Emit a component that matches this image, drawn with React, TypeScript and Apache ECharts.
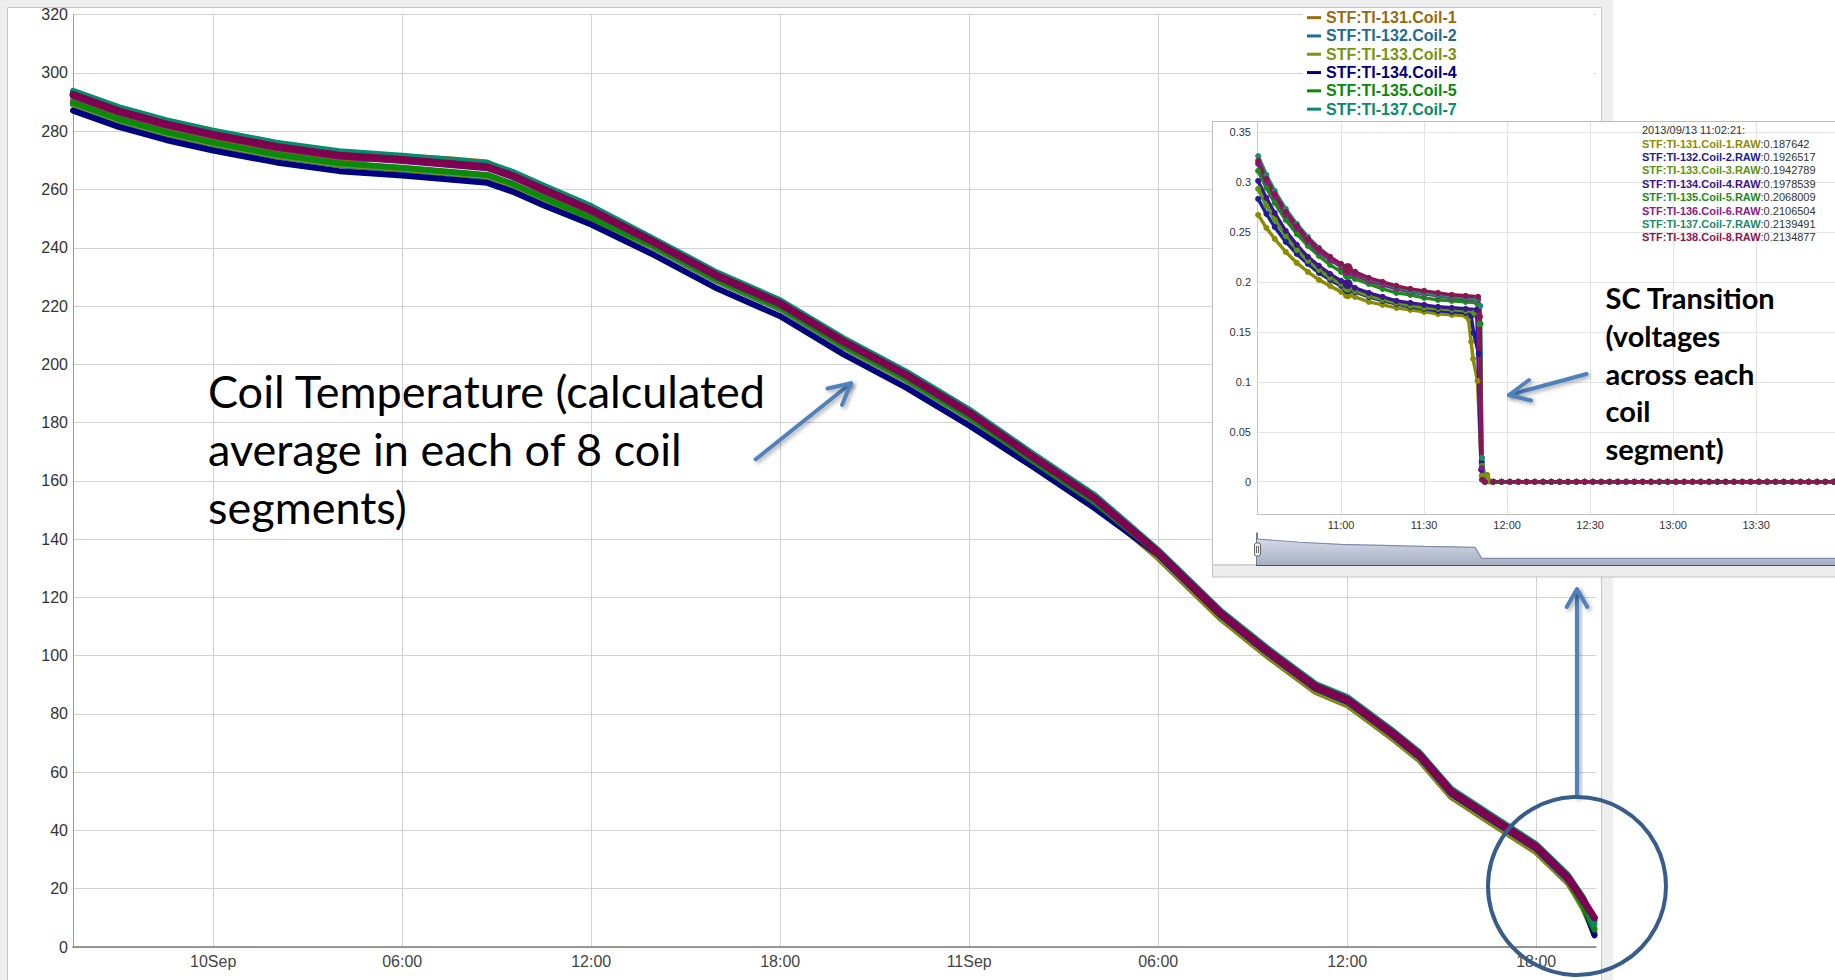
import React, { useEffect, useRef } from "react";
import * as echarts from "echarts";

// ---------- Main chart data (hours relative to 10 Sep 00:00, temperature) ----------
const HOURS = [-4.45, -3, -1.5, 0, 2, 4, 6, 7.5, 8.7, 9.5, 10.5, 12, 14, 16, 18, 20, 22, 24, 26, 28, 30, 32, 33.5, 35, 36, 37.5, 38.3, 39.3, 40.5, 42, 43, 43.5, 43.85];
const COIL1_T = [290.6, 285.0, 280.5, 276.9, 272.8, 269.8, 271.3, 270.4, 269.3, 265.3, 259.0, 252.0, 240.0, 228.5, 219.0, 206.0, 194.5, 181.5, 166.5, 152.0, 133.5, 112.5, 99.5, 87.5, 83.0, 71.0, 64.0, 51.5, 43.0, 32.5, 22.0, 14.0, 6.5];
const COIL2_T = [289.1, 283.5, 279.0, 275.4, 271.3, 268.3, 266.8, 265.4, 264.3, 261.3, 256.5, 249.5, 240.0, 228.5, 219.0, 206.0, 194.5, 181.5, 166.5, 152.0, 134.5, 113.5, 100.5, 88.5, 84.0, 72.0, 65.0, 52.5, 44.0, 33.5, 23.0, 13.5, 4.5];
const COIL3_T = [289.4, 283.8, 279.3, 275.7, 271.6, 268.6, 267.1, 265.7, 264.6, 261.6, 256.8, 249.8, 240.2, 228.7, 219.2, 206.2, 194.7, 181.7, 166.7, 152.2, 133.9, 112.9, 99.9, 87.9, 83.4, 71.4, 64.4, 51.9, 43.4, 32.9, 22.4, 13.0, 5.0];
const COIL4_T = [287.1, 281.5, 277.0, 273.4, 269.3, 266.3, 264.8, 263.4, 262.3, 259.3, 254.5, 248.0, 237.5, 226.0, 216.5, 203.5, 192.0, 179.0, 165.0, 150.5, 134.7, 113.7, 100.7, 88.7, 84.2, 72.2, 65.2, 52.7, 44.2, 33.7, 23.2, 14.5, 4.0];
const COIL5_T = [289.8, 284.2, 279.7, 276.1, 272.0, 269.0, 267.5, 266.1, 265.0, 262.0, 257.2, 250.2, 240.5, 229.0, 219.5, 206.5, 195.0, 182.0, 167.0, 152.5, 135.0, 114.0, 101.0, 89.0, 84.5, 72.5, 65.5, 53.0, 44.5, 34.0, 23.5, 14.0, 6.0];
const COIL6_T = [292.1, 286.5, 282.0, 278.4, 274.3, 271.3, 269.8, 268.4, 267.3, 264.3, 259.5, 252.5, 241.5, 230.0, 220.5, 207.5, 196.0, 183.0, 168.0, 153.5, 135.0, 114.0, 101.0, 89.0, 84.5, 72.5, 65.5, 53.0, 44.5, 34.0, 23.5, 15.5, 9.0];
const COIL7_T = [293.9, 288.3, 283.8, 280.2, 276.1, 273.1, 271.6, 270.2, 269.1, 266.1, 261.3, 254.3, 243.0, 231.5, 222.0, 209.0, 197.5, 184.5, 169.5, 155.0, 136.3, 115.3, 102.3, 90.3, 85.8, 73.8, 66.8, 54.3, 45.8, 35.3, 24.8, 16.8, 8.0];
const COIL8_T = [292.6, 287.0, 282.5, 278.9, 274.8, 271.8, 270.3, 268.9, 267.8, 264.8, 260.0, 253.0, 242.0, 230.5, 221.0, 208.0, 196.5, 183.5, 168.5, 154.0, 135.5, 114.5, 101.5, 89.5, 85.0, 73.0, 66.0, 53.5, 45.0, 34.5, 24.0, 16.0, 10.0];
const MAIN_NAMES = ["STF:TI-131.Coil-1", "STF:TI-132.Coil-2", "STF:TI-133.Coil-3", "STF:TI-134.Coil-4", "STF:TI-135.Coil-5", "STF:TI-136.Coil-6", "STF:TI-137.Coil-7", "STF:TI-138.Coil-8"];
const MAIN_COLORS = ["#9a6a10", "#226b94", "#7a9412", "#000080", "#0a8a0a", "#800080", "#058c6c", "#800050"];
const LEGEND_NAMES = ["STF:TI-131.Coil-1", "STF:TI-132.Coil-2", "STF:TI-133.Coil-3", "STF:TI-134.Coil-4", "STF:TI-135.Coil-5", "STF:TI-137.Coil-7"];
const MAIN_X_TICKS = [0, 6, 12, 18, 24, 30, 36, 42];

// ---------- Inset data (minutes after 10:00, volts) ----------
const INSET_T = [30, 33, 36, 40, 44, 48, 52, 56, 60, 65, 70, 75, 80, 85, 90, 95, 100, 105];
const RAW1 = [0.267, 0.254, 0.243, 0.230, 0.219, 0.210, 0.202, 0.196, 0.190, 0.185, 0.180, 0.177, 0.174, 0.172, 0.170, 0.168, 0.167, 0.166];
const RAW2 = [0.283, 0.268, 0.255, 0.240, 0.228, 0.218, 0.209, 0.202, 0.196, 0.190, 0.185, 0.181, 0.178, 0.175, 0.173, 0.171, 0.170, 0.169];
const RAW3 = [0.293, 0.276, 0.262, 0.246, 0.232, 0.221, 0.212, 0.204, 0.198, 0.191, 0.186, 0.182, 0.179, 0.176, 0.174, 0.173, 0.172, 0.171];
const RAW4 = [0.301, 0.284, 0.269, 0.251, 0.237, 0.225, 0.216, 0.208, 0.201, 0.194, 0.189, 0.185, 0.181, 0.179, 0.177, 0.175, 0.174, 0.173];
const RAW5 = [0.311, 0.294, 0.279, 0.262, 0.248, 0.236, 0.226, 0.217, 0.210, 0.203, 0.198, 0.193, 0.189, 0.187, 0.184, 0.182, 0.181, 0.180];
const RAW6 = [0.318, 0.300, 0.285, 0.267, 0.253, 0.240, 0.230, 0.222, 0.215, 0.207, 0.201, 0.197, 0.193, 0.190, 0.188, 0.186, 0.184, 0.183];
const RAW7 = [0.326, 0.307, 0.291, 0.273, 0.258, 0.245, 0.234, 0.225, 0.217, 0.210, 0.203, 0.199, 0.195, 0.191, 0.189, 0.187, 0.185, 0.184];
const RAW8 = [0.321, 0.303, 0.288, 0.270, 0.256, 0.243, 0.233, 0.225, 0.218, 0.210, 0.204, 0.200, 0.196, 0.193, 0.191, 0.189, 0.187, 0.186];
const TRANS1 = [[106, 0.163], [107, 0.14], [107.7, 0.123], [109.3, 0.101], [110.8, 0.006], [112.8, 0.007], [114, 0]];
const TRANS2 = [[107, 0.166], [107.9, 0.149], [109.7, 0.128], [110.8, 0.02], [112, 0]];
const TRANS3 = [[108, 0.169], [110, 0.158], [110.9, 0.016], [112, 0]];
const TRANS4 = [[109, 0.172], [110.6, 0.012], [112, 0]];
const TRANS5 = [[109, 0.179], [110.4, 0.158], [110.9, 0.024], [112, 0]];
const TRANS6 = [[109.5, 0.182], [110.8, 0.014], [112, 0]];
const TRANS7 = [[109, 0.183], [110.3, 0.176], [110.9, 0.024], [112, 0]];
const TRANS8 = [[109.5, 0.185], [110.2, 0.165], [110.9, 0.002], [112, 0]];
const ZERO_T = [115, 118, 121, 124, 127, 130, 133, 136, 139, 142, 145, 148, 151, 154, 157, 160, 163, 166, 169, 172, 175, 178, 181, 184, 187, 190, 193, 196, 199, 202, 205, 208, 211, 214, 217, 220, 223, 226, 229, 232, 235, 238, 241];
const HOVER_T = 62.35;
const HOVER_V = [0.187642, 0.1926517, 0.1942789, 0.1978539, 0.2068009, 0.2106504, 0.2139491, 0.2134877];
const INSET_NAMES = ["STF:TI-131.Coil-1.RAW", "STF:TI-132.Coil-2.RAW", "STF:TI-133.Coil-3.RAW", "STF:TI-134.Coil-4.RAW", "STF:TI-135.Coil-5.RAW", "STF:TI-136.Coil-6.RAW", "STF:TI-137.Coil-7.RAW", "STF:TI-138.Coil-8.RAW"];
const INSET_COLORS = ["#8c8c00", "#1c1c9c", "#5c9414", "#3c148c", "#1a8c1a", "#8c1a8c", "#1a8c6c", "#8c1450"];
const INSET_X_TICKS = [60, 90, 120, 150, 180, 210];
const INSET_Y_TICKS = [0, 0.05, 0.1, 0.15, 0.2, 0.25, 0.3, 0.35];
const NAV_T = [29.6, 45, 60, 75, 90, 100, 108.4, 110.8, 240];
const NAV_V = [0.307, 0.255, 0.222, 0.205, 0.19, 0.183, 0.175, 0, 0];

const MAIN_SERIES = [COIL1_T, COIL2_T, COIL3_T, COIL4_T, COIL5_T, COIL6_T, COIL7_T, COIL8_T];
const RAW_SERIES = [RAW1, RAW2, RAW3, RAW4, RAW5, RAW6, RAW7, RAW8];
const TRANS_SERIES = [TRANS1, TRANS2, TRANS3, TRANS4, TRANS5, TRANS6, TRANS7, TRANS8];

const fmtMainX = (v: number) => {
  const h = Math.round(v);
  if (h % 24 === 0) return `${10 + h / 24}Sep`;
  const hh = ((h % 24) + 24) % 24;
  return `${String(hh).padStart(2, "0")}:00`;
};
const fmtInsetX = (m: number) => {
  const t = Math.round(m);
  const hh = 10 + Math.floor(t / 60);
  return `${hh}:${String(t % 60).padStart(2, "0")}`;
};

function buildRaw(i: number) {
  const pts: any[] = [];
  INSET_T.forEach((t, k) => {
    if (t === 65) pts.push({ value: [HOVER_T, HOVER_V[i]], symbolSize: 10 });
    pts.push([t, RAW_SERIES[i][k]]);
  });
  TRANS_SERIES[i].forEach((p) => pts.push(p));
  ZERO_T.forEach((t) => pts.push([t, 0]));
  return pts;
}

export default function App() {
  const ref = useRef<HTMLDivElement>(null);
  useEffect(() => {
    if (!ref.current) return;
    const chart = echarts.init(ref.current, undefined, { renderer: "svg" });
    const FONT = "Liberation Sans, Arial, sans-serif";
    const blue = "#4f81bd";
    const shadow = { shadowBlur: 4, shadowColor: "rgba(0,0,0,0.35)", shadowOffsetX: 2, shadowOffsetY: 2 };

    const mainSeries = MAIN_SERIES.map((vals, i) => ({
      type: "line",
      name: MAIN_NAMES[i],
      xAxisIndex: 0,
      yAxisIndex: 0,
      data: HOURS.map((h, k) => [h, vals[k]]),
      showSymbol: false,
      smooth: false,
      color: MAIN_COLORS[i],
      lineStyle: { width: i === 7 ? 7 : 6, color: MAIN_COLORS[i], join: "round", cap: "round" },
      silent: true,
      z: 2,
    }));

    const insetSeries = RAW_SERIES.map((_, i) => ({
      type: "line",
      name: INSET_NAMES[i],
      xAxisIndex: 1,
      yAxisIndex: 1,
      data: buildRaw(i),
      symbol: "circle",
      symbolSize: 6,
      showSymbol: true,
      color: INSET_COLORS[i],
      itemStyle: { color: INSET_COLORS[i] },
      lineStyle: { width: 3.5, color: INSET_COLORS[i] },
      silent: true,
      z: 32,
    }));

    const navSeries = {
      type: "line",
      name: "navigator",
      xAxisIndex: 2,
      yAxisIndex: 2,
      data: NAV_T.map((t, k) => [t, NAV_V[k]]),
      showSymbol: false,
      color: "#7e8bab",
      lineStyle: { width: 1.2, color: "#7e8bab" },
      areaStyle: {
        origin: "start",
        opacity: 1,
        color: new echarts.graphic.LinearGradient(0, 0, 0, 1, [
          { offset: 0, color: "#d5dae6" },
          { offset: 1, color: "#a6afc3" },
        ]),
      },
      silent: true,
      z: 32,
    };

    const richStyles: any = {
      t: { fontSize: 11, fill: "#333", fontFamily: FONT, lineHeight: 13.4 },
      v: { fontSize: 11, fill: "#333", fontFamily: FONT, lineHeight: 13.4 },
    };
    INSET_COLORS.forEach((c, i) => {
      richStyles["c" + i] = { fontSize: 11, fill: c, fontWeight: "bold", fontFamily: FONT, lineHeight: 13.4 };
    });
    const insetLegendText = ["{t|2013/09/13 11:02:21:}"]
      .concat(INSET_NAMES.map((n, i) => `{c${i}|${n}}{v|:${String(HOVER_V[i])}}`))
      .join("\n");

    const option: any = {
      animation: false,
      backgroundColor: "#ffffff",
      textStyle: { fontFamily: FONT },
      grid: [
        { left: 73, top: 14.7, width: 1523, height: 932.3, containLabel: false, outerBoundsMode: "none" },
        { left: 1257, top: 122, width: 578, height: 392.3, containLabel: false, outerBoundsMode: "none" },
        { left: 1257, top: 533, width: 578, height: 32, containLabel: false, outerBoundsMode: "none" },
      ],
      xAxis: [
        {
          type: "value", gridIndex: 0, min: -4.45, max: 43.9,
          axisLine: { onZero: false, lineStyle: { color: "#7a7a7a", width: 1.5 } },
          axisTick: { show: false, customValues: MAIN_X_TICKS },
          axisLabel: { customValues: MAIN_X_TICKS, formatter: fmtMainX, fontSize: 16, color: "#444", margin: 6, fontFamily: FONT },
          splitLine: { show: true, lineStyle: { color: "#d2d2d2", width: 1 } },
        },
        {
          type: "value", gridIndex: 1, min: 29.6, max: 238.5, z: 31,
          axisLine: { onZero: false, lineStyle: { color: "#c0c0c0", width: 1 } },
          axisTick: { show: false, customValues: INSET_X_TICKS },
          axisLabel: { customValues: INSET_X_TICKS, formatter: fmtInsetX, fontSize: 11, color: "#333", margin: 5, fontFamily: FONT },
          splitLine: { show: true, lineStyle: { color: "#e3e3e3", width: 1 } },
        },
        {
          type: "value", gridIndex: 2, min: 29.6, max: 238.5, z: 31,
          axisLine: { onZero: false, lineStyle: { color: "#4a5262", width: 2 } },
          axisTick: { show: false }, axisLabel: { show: false }, splitLine: { show: false },
        },
      ],
      yAxis: [
        {
          type: "value", gridIndex: 0, min: 0, max: 320, interval: 20,
          axisLine: { show: true, onZero: false, lineStyle: { color: "#999", width: 1 } },
          axisTick: { show: false },
          axisLabel: { fontSize: 16, color: "#333", margin: 5, fontFamily: FONT },
          splitLine: { show: true, lineStyle: { color: "#d2d2d2", width: 1 } },
        },
        {
          type: "value", gridIndex: 1, min: -0.0326, max: 0.36, z: 31,
          axisLine: { show: true, onZero: false, lineStyle: { color: "#c8c8c8", width: 1 } },
          axisTick: { show: false, customValues: INSET_Y_TICKS },
          axisLabel: {
            customValues: INSET_Y_TICKS, fontSize: 11, color: "#333", margin: 6, fontFamily: FONT,
            formatter: (v: number) => String(Math.round(v * 100) / 100),
          },
          splitLine: { show: true, lineStyle: { color: "#e3e3e3", width: 1 } },
        },
        {
          type: "value", gridIndex: 2, min: -0.106, max: 0.402, z: 31,
          axisLine: { show: true, onZero: false, lineStyle: { color: "#4a5262", width: 1.5 } },
          axisTick: { show: false }, axisLabel: { show: false }, splitLine: { show: false },
        },
      ],
      legend: {
        orient: "vertical",
        left: 1303,
        top: 8.5,
        padding: [0, 137, 12, 4],
        itemGap: 0,
        itemWidth: 14,
        itemHeight: 3,
        icon: "rect",
        selectedMode: false,
        backgroundColor: "#ffffff",
        textStyle: { fontSize: 16, fontWeight: "bold", fontFamily: FONT, lineHeight: 18.3 },
        data: LEGEND_NAMES.map((n) => ({ name: n, textStyle: { color: MAIN_COLORS[MAIN_NAMES.indexOf(n)] } })),
      },
      series: [...mainSeries, ...insetSeries, navSeries],
      graphic: {
        elements: [
          { type: "rect", shape: { x: 0, y: 0, width: 1613, height: 980 }, style: { fill: "#eeeeee" }, z: -10, silent: true },
          { type: "rect", shape: { x: 7.5, y: 7.5, width: 1594, height: 990 }, style: { fill: "#ffffff", stroke: "#c4c4c4", lineWidth: 1 }, z: -9, silent: true },
          // inset panel
          { type: "rect", shape: { x: 1212.5, y: 121.5, width: 640, height: 443.5 }, style: { fill: "#ffffff", stroke: "#bdbdbd", lineWidth: 1 }, z: 30, silent: true },
          { type: "rect", shape: { x: 1212.5, y: 565, width: 640, height: 12 }, style: { fill: "#ececec", stroke: "#c4c4c4", lineWidth: 1 }, z: 30, silent: true },
          // navigator handle
          { type: "rect", shape: { x: 1254.5, y: 543, width: 6, height: 13, r: 2 }, style: { fill: "#f2f2f2", stroke: "#666", lineWidth: 1 }, z: 36, silent: true },
          { type: "line", shape: { x1: 1256.5, y1: 546, x2: 1256.5, y2: 553 }, style: { stroke: "#666", lineWidth: 1 }, z: 37, silent: true },
          { type: "line", shape: { x1: 1258.5, y1: 546, x2: 1258.5, y2: 553 }, style: { stroke: "#666", lineWidth: 1 }, z: 37, silent: true },
          // inset legend
          {
            type: "text", x: 1642, y: 123.5, z: 40, silent: true,
            style: { text: insetLegendText, rich: richStyles, fontSize: 11, fontFamily: FONT, fill: "#333", lineHeight: 13.4, verticalAlign: "top", align: "left" },
          },
          // main annotation
          {
            type: "text", x: 208, y: 362, z: 20, silent: true,
            style: {
              text: "Coil Temperature (calculated\naverage in each of 8 coil\nsegments)",
              fontFamily: "Lato", fontSize: 45, fill: "#000", lineHeight: 58, verticalAlign: "top", align: "left",
            },
          },
          { type: "line", shape: { x1: 755.7, y1: 459.3, x2: 851, y2: 383.3 }, style: { stroke: blue, lineWidth: 4, lineCap: "round", ...shadow }, z: 20, silent: true },
          { type: "polyline", shape: { points: [[827.5, 388.5], [851, 383.3], [842, 405]] }, style: { stroke: blue, fill: "none", lineWidth: 4, lineCap: "round", lineJoin: "round", ...shadow }, z: 20, silent: true },
          // SC transition annotation
          {
            type: "text", x: 1605.5, y: 279, z: 40, silent: true,
            style: {
              text: "SC Transition\n(voltages\nacross each\ncoil\nsegment)",
              fontFamily: "Lato", fontWeight: "bold", fontSize: 29, fill: "#000", lineHeight: 37.6, verticalAlign: "top", align: "left",
            },
          },
          { type: "line", shape: { x1: 1586.6, y1: 374, x2: 1509, y2: 395 }, style: { stroke: blue, lineWidth: 4, lineCap: "round", ...shadow }, z: 40, silent: true },
          { type: "polyline", shape: { points: [[1529, 380], [1509, 395], [1531, 400.5]] }, style: { stroke: blue, fill: "none", lineWidth: 4, lineCap: "round", lineJoin: "round", ...shadow }, z: 40, silent: true },
          // vertical arrow + circle
          { type: "rect", shape: { x: 1575, y: 590, width: 4, height: 208 }, style: { fill: blue, ...shadow }, z: 20, silent: true },
          { type: "polyline", shape: { points: [[1566.7, 607], [1577, 589], [1587.3, 607]] }, style: { stroke: blue, fill: "none", lineWidth: 4, lineCap: "round", lineJoin: "round", ...shadow }, z: 20, silent: true },
          { type: "circle", shape: { cx: 1577, cy: 886, r: 89 }, style: { fill: "none", stroke: "#385d8a", lineWidth: 4 }, z: 21, silent: true },
        ],
      },
    };
    chart.setOption(option);
    return () => chart.dispose();
  }, []);
  return <div ref={ref} style={{ position: "fixed", left: 0, top: 0, width: 1835, height: 980 }} />;
}
